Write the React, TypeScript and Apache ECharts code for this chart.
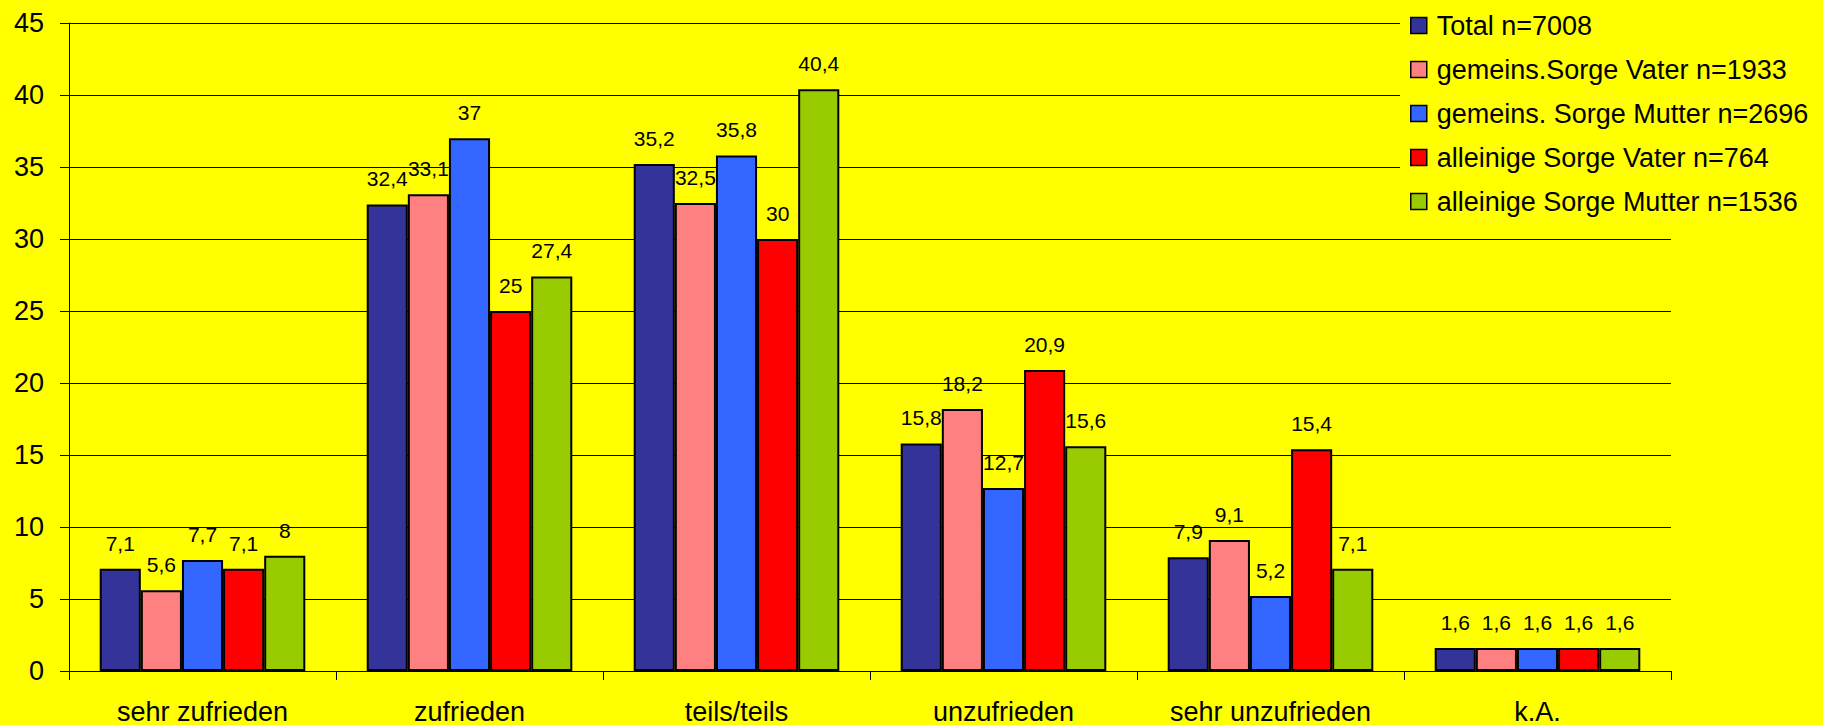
import React, { useEffect, useRef } from "react";
import * as echarts from "echarts";

const categories = ["sehr zufrieden", "zufrieden", "teils/teils", "unzufrieden", "sehr unzufrieden", "k.A."];
const seriesNames = [
  "Total n=7008",
  "gemeins.Sorge Vater n=1933",
  "gemeins. Sorge Mutter n=2696",
  "alleinige Sorge Vater n=764",
  "alleinige Sorge Mutter n=1536",
];
const total = [7.1, 32.4, 35.2, 15.8, 7.9, 1.6];
const gemVater = [5.6, 33.1, 32.5, 18.2, 9.1, 1.6];
const gemMutter = [7.7, 37, 35.8, 12.7, 5.2, 1.6];
const allVater = [7.1, 25, 30, 20.9, 15.4, 1.6];
const allMutter = [8, 27.4, 40.4, 15.6, 7.1, 1.6];
const seriesData = [total, gemVater, gemMutter, allVater, allMutter];
const colors = ["#333399", "#FF8080", "#3366FF", "#FF0000", "#99CC00"];
const yTicks = { min: 0, max: 45, interval: 5 };

const FONT = "'Liberation Sans', Arial, sans-serif";

export default function App() {
  const ref = useRef<HTMLDivElement>(null);
  useEffect(() => {
    if (!ref.current) return;
    const chart = echarts.init(ref.current, undefined, { renderer: "svg" });
    chart.setOption({
      animation: false,
      backgroundColor: "#FFFF00",
      textStyle: { fontFamily: FONT },
      grid: { left: 69, right: 152, top: 23, bottom: 54, containLabel: false },
      legend: {
        orient: "vertical",
        left: 1400,
        top: 8,
        padding: [4, 10, 6, 10],
        backgroundColor: "#FFFF00",
        icon: "rect",
        itemWidth: 16,
        itemHeight: 16,
        itemGap: 17,
        data: seriesNames,
        itemStyle: { borderColor: "#000", borderWidth: 1.5 },
        textStyle: { fontFamily: FONT, fontSize: 27, color: "#000", padding: [0, 0, 0, 5] },
      },
      xAxis: {
        type: "category",
        data: categories,
        axisLine: { lineStyle: { color: "#000", width: 1 } },
        axisTick: { show: true, length: 9, lineStyle: { color: "#000" } },
        axisLabel: { fontFamily: FONT, fontSize: 27, color: "#000", margin: 27, interval: 0 },
      },
      yAxis: {
        type: "value",
        min: yTicks.min,
        max: yTicks.max,
        interval: yTicks.interval,
        axisLine: { show: true, lineStyle: { color: "#000", width: 1 } },
        axisTick: { show: true, length: 9, lineStyle: { color: "#000" } },
        axisLabel: { fontFamily: FONT, fontSize: 27, color: "#000", margin: 25 },
        splitLine: { show: true, lineStyle: { color: "#000", width: 1 } },
      },
      series: seriesData.map((d, i) => ({
        name: seriesNames[i],
        type: "bar",
        data: d,
        barGap: "0%",
        barCategoryGap: "23%",
        itemStyle: { color: colors[i], borderColor: "#000", borderWidth: 2 },
        label: {
          show: true,
          position: "top",
          distance: 15,
          fontFamily: FONT,
          fontSize: 21,
          color: "#000",
          formatter: (p: any) => String(p.value).replace(".", ","),
        },
      })),
    });
    return () => chart.dispose();
  }, []);
  return (
    <div
      ref={ref}
      style={{ position: "fixed", left: 0, top: 0, width: 1823, height: 725 }}
    />
  );
}
